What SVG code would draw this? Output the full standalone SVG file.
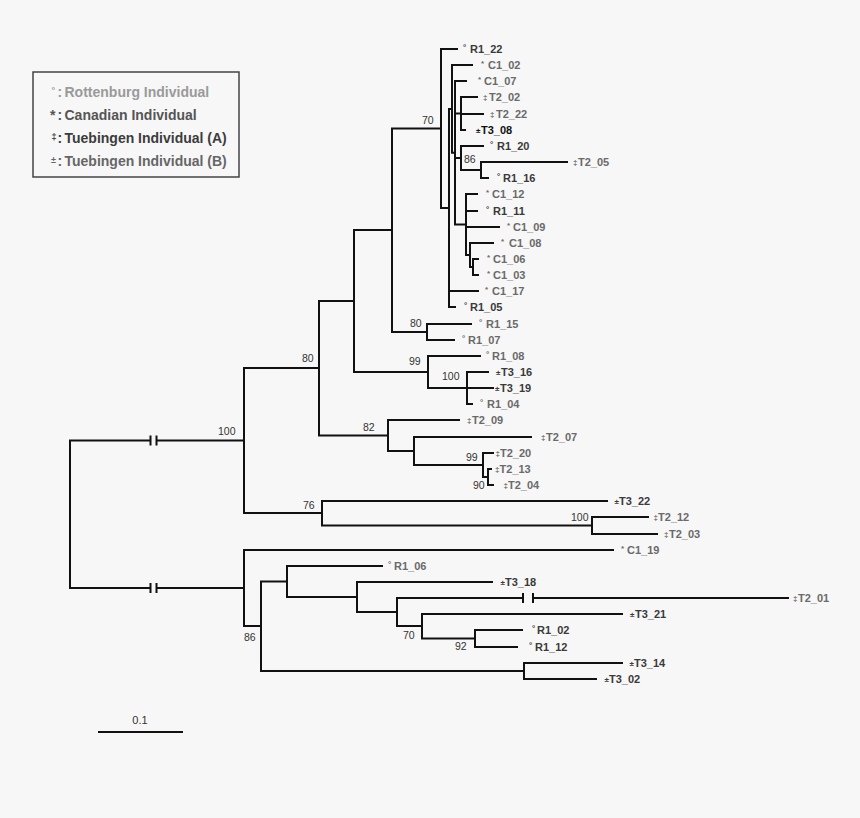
<svg xmlns="http://www.w3.org/2000/svg" width="860" height="818" viewBox="0 0 860 818">
<style>
text{font-family:"Liberation Sans",Arial,Helvetica,sans-serif}
.lf{font-size:11px;font-weight:bold}
.d{fill:#3a3a3a}
.m{fill:#6a6a6a}
.k{fill:#111}
.s{font-size:8px;font-weight:bold}
.bs{font-size:10.5px;fill:#333}
.lg{font-size:14px;font-weight:bold}
.tree{fill:none;stroke:#111;stroke-width:2;stroke-linecap:square}
</style>
<rect width="860" height="818" fill="#f7f7f7"/>
<g id="legend">
<rect x="33" y="72" width="206" height="105" fill="none" stroke="#444" stroke-width="1.5"/>
<text class="lg" y="97" fill="#9a9a9a"><tspan x="51.5" font-size="9" dy="-4">°</tspan><tspan x="57.5" dy="4">:</tspan><tspan x="64.5">Rottenburg Individual</tspan></text>
<text class="lg" y="120" fill="#555"><tspan x="50">*</tspan><tspan x="57.5">:</tspan><tspan x="64.5">Canadian Individual</tspan></text>
<text class="lg" y="143" fill="#3c3c3c"><tspan x="51.5" font-size="9" dy="-3">‡</tspan><tspan x="57.5" dy="3">:</tspan><tspan x="64.5">Tuebingen Individual (A)</tspan></text>
<text class="lg" y="166" fill="#666"><tspan x="51" font-size="9" dy="-3">±</tspan><tspan x="57.5" dy="3">:</tspan><tspan x="64.5">Tuebingen Individual (B)</tspan></text>
</g>
<g id="connectors">
<path class="tree" d="
M70,440.5 V588
M70,440.5 H150.5 M156.5,440.5 H244
M70,588 H150.5 M156.5,588 H244
M150.5,436.5 V444.5 M156.5,436.5 V444.5 M150.5,584 V592 M156.5,584 V592
M244,368 V513 M244,368 H319 M244,513 H322
M319,301 V435.5 M319,301 H354 M319,435.5 H388
M354,230 V372 M354,230 H392 M354,372 H428
M392,128.5 V332 M392,128.5 H441 M392,332 H427
M441,49 V208 M441,49 H457 M441,208 H449
M449,108.9 V307 M449,108.9 H452 M449,291 H478 M449,307 H455
M452,65 V152.75 M452,65 H472 M452,152.75 H455
M455,81 V224.5 M455,81 H466 M455,113.5 H461 M455,158 H461 M455,224.5 H466
M461,97 V130 M461,97 H477 M461,114 H483 M461,130 H465
M461,146 V170 M461,146 H483 M461,170 H481
M481,162 V178 M481,162 H567 M481,178 H488
M466,194 V255 M466,194 H477 M466,211 H477 M466,227 H499 M466,255 H470
M470,243 V267 M470,243 H493 M470,267 H473
M473,259 V275 M473,259 H478 M473,275 H478
M427,324 V340 M427,324 H471 M427,340 H454
M428,356 V388 M428,356 H480 M428,388 H467
M467,372 V404 M467,372 H488 M467,388 H493 M467,404 H472
M388,420 V451 M388,420 H459 M388,451 H414
M414,437 V465 M414,437 H531 M414,465 H483
M483,453 V477 M483,453 H493 M483,477 H488
M488,469 V485 M488,469 H491 M488,485 H493
M322,501 V525.5 M322,501 H607 M322,525.5 H592
M592,517 V534 M592,517 H648 M592,534 H657
M244,550 V626 M244,550 H613 M244,626 H261
M261,581.5 V671 M261,581.5 H287 M261,671 H524
M287,566 V597 M287,566 H382 M287,597 H357
M357,582 V612 M357,582 H492 M357,612 H397
M397,598 V626 M397,598 H523 M533,598 H788 M397,626 H422
M523,594 V602 M533,594 V602
M422,614 V638.5 M422,614 H622 M422,638.5 H475
M475,630 V647 M475,630 H522 M475,647 H517
M524,663 V679 M524,663 H622 M524,679 H596
"/>
</g>
<g id="bootstrap">
<text class="bs" x="218" y="435">100</text>
<text class="bs" x="302" y="362">80</text>
<text class="bs" x="303" y="509">76</text>
<text class="bs" x="422" y="124">70</text>
<text class="bs" x="464" y="163">86</text>
<text class="bs" x="410" y="327">80</text>
<text class="bs" x="409" y="365">99</text>
<text class="bs" x="442" y="380">100</text>
<text class="bs" x="363" y="431">82</text>
<text class="bs" x="466" y="461">99</text>
<text class="bs" x="473" y="489">90</text>
<text class="bs" x="571" y="521">100</text>
<text class="bs" x="244" y="641">86</text>
<text class="bs" x="403" y="639">70</text>
<text class="bs" x="455" y="650">92</text>
</g>
<g id="leaves">
<g id="R1_22" class="d"><text class="s" x="463" y="50">°</text><text class="lf" x="470" y="53">R1_22</text></g>
<g id="C1_02" class="m"><text class="s" x="481" y="66">*</text><text class="lf" x="488" y="69">C1_02</text></g>
<g id="C1_07" class="m"><text class="s" x="478" y="82">*</text><text class="lf" x="484" y="85">C1_07</text></g>
<g id="T2_02" class="m"><text class="s" x="483" y="99.5">‡</text><text class="lf" x="489" y="101">T2_02</text></g>
<g id="T2_22" class="m"><text class="s" x="490" y="116.5">‡</text><text class="lf" x="496" y="118">T2_22</text></g>
<g id="T3_08" class="k"><text class="s" x="476" y="132.5">±</text><text class="lf" x="481" y="134">T3_08</text></g>
<g id="R1_20" class="d"><text class="s" x="490" y="147">°</text><text class="lf" x="497" y="150">R1_20</text></g>
<g id="T2_05" class="m"><text class="s" x="573" y="164.5">‡</text><text class="lf" x="578" y="166">T2_05</text></g>
<g id="R1_16" class="d"><text class="s" x="497" y="179">°</text><text class="lf" x="503" y="182">R1_16</text></g>
<g id="C1_12" class="m"><text class="s" x="486" y="195">*</text><text class="lf" x="492" y="198">C1_12</text></g>
<g id="R1_11" class="d"><text class="s" x="486" y="212">°</text><text class="lf" x="493" y="215">R1_11</text></g>
<g id="C1_09" class="m"><text class="s" x="507" y="228">*</text><text class="lf" x="513" y="231">C1_09</text></g>
<g id="C1_08" class="m"><text class="s" x="501" y="244">*</text><text class="lf" x="509" y="247">C1_08</text></g>
<g id="C1_06" class="m"><text class="s" x="487" y="260">*</text><text class="lf" x="493" y="263">C1_06</text></g>
<g id="C1_03" class="m"><text class="s" x="487" y="276">*</text><text class="lf" x="493" y="279">C1_03</text></g>
<g id="C1_17" class="m"><text class="s" x="485" y="292">*</text><text class="lf" x="492" y="295">C1_17</text></g>
<g id="R1_05" class="d"><text class="s" x="464" y="308">°</text><text class="lf" x="470" y="311">R1_05</text></g>
<g id="R1_15" class="m"><text class="s" x="479" y="325">°</text><text class="lf" x="486" y="328">R1_15</text></g>
<g id="R1_07" class="m"><text class="s" x="462" y="341">°</text><text class="lf" x="468" y="344">R1_07</text></g>
<g id="R1_08" class="m"><text class="s" x="486" y="357">°</text><text class="lf" x="492" y="360">R1_08</text></g>
<g id="T3_16" class="d"><text class="s" x="496" y="374.5">±</text><text class="lf" x="501" y="376">T3_16</text></g>
<g id="T3_19" class="d"><text class="s" x="495" y="390.5">±</text><text class="lf" x="500" y="392">T3_19</text></g>
<g id="R1_04" class="m"><text class="s" x="480" y="405">°</text><text class="lf" x="487" y="408">R1_04</text></g>
<g id="T2_09" class="m"><text class="s" x="467" y="422.5">‡</text><text class="lf" x="472" y="424">T2_09</text></g>
<g id="T2_07" class="m"><text class="s" x="541" y="439.5">‡</text><text class="lf" x="546" y="441">T2_07</text></g>
<g id="T2_20" class="m"><text class="s" x="495.5" y="455.5">‡</text><text class="lf" x="500" y="457">T2_20</text></g>
<g id="T2_13" class="m"><text class="s" x="495" y="471.5">‡</text><text class="lf" x="499.5" y="473">T2_13</text></g>
<g id="T2_04" class="m"><text class="s" x="503.5" y="487.5">‡</text><text class="lf" x="508" y="489">T2_04</text></g>
<g id="T3_22" class="d"><text class="s" x="614.5" y="503.5">±</text><text class="lf" x="619" y="505">T3_22</text></g>
<g id="T2_12" class="m"><text class="s" x="653.5" y="519.5">‡</text><text class="lf" x="658" y="521">T2_12</text></g>
<g id="T2_03" class="m"><text class="s" x="664" y="536.5">‡</text><text class="lf" x="669" y="538">T2_03</text></g>
<g id="C1_19" class="m"><text class="s" x="621" y="551">*</text><text class="lf" x="627" y="554">C1_19</text></g>
<g id="R1_06" class="m"><text class="s" x="388" y="567">°</text><text class="lf" x="394" y="570">R1_06</text></g>
<g id="T3_18" class="d"><text class="s" x="500.5" y="584.5">±</text><text class="lf" x="505" y="586">T3_18</text></g>
<g id="T2_01" class="m"><text class="s" x="793" y="600.5">‡</text><text class="lf" x="798" y="602">T2_01</text></g>
<g id="T3_21" class="d"><text class="s" x="630" y="616.5">±</text><text class="lf" x="635" y="618">T3_21</text></g>
<g id="R1_02" class="d"><text class="s" x="532" y="631">°</text><text class="lf" x="537" y="634">R1_02</text></g>
<g id="R1_12" class="d"><text class="s" x="529" y="648">°</text><text class="lf" x="535" y="651">R1_12</text></g>
<g id="T3_14" class="d"><text class="s" x="629.5" y="665.5">±</text><text class="lf" x="634" y="667">T3_14</text></g>
<g id="T3_02" class="d"><text class="s" x="604.5" y="681.5">±</text><text class="lf" x="609" y="683">T3_02</text></g>
</g>
<g id="scale">
<path d="M98,732 H183" stroke="#111" stroke-width="2" fill="none"/>
<text x="140" y="724" font-size="11" fill="#333" text-anchor="middle">0.1</text>
</g>
</svg>
